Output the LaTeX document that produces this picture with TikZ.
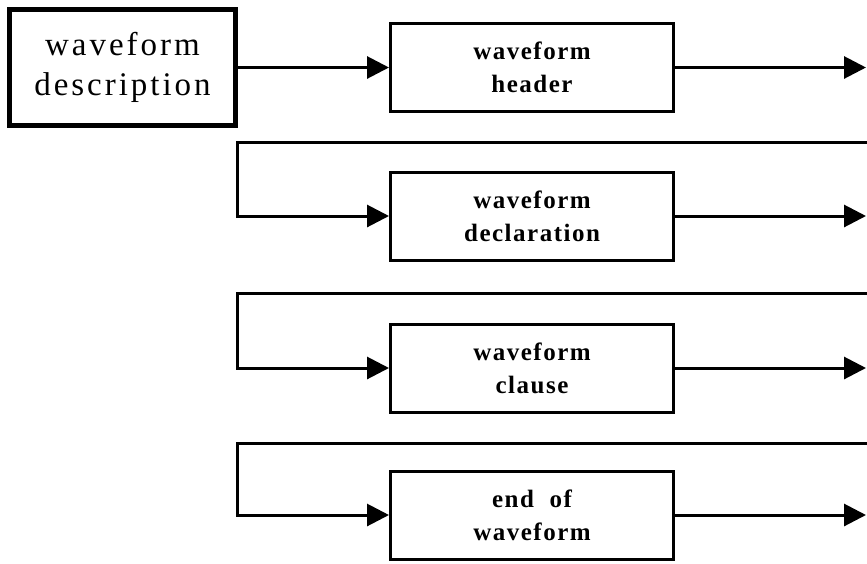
\documentclass[tikz,border=0pt]{standalone}
\usepackage{fontspec}
\setmainfont{Liberation Serif}
\newfontfamily\titlefont[LetterSpace=9]{Liberation Serif}
\newfontfamily\partfont[LetterSpace=6]{Liberation Serif}
\usetikzlibrary{arrows.meta}
\tikzset{
  title box/.style={draw, line width=5pt, minimum width=226pt, minimum height=116pt,
    inner sep=0pt, align=center, font=\titlefont\fontsize{33}{40}\selectfont},
  part box/.style={draw, line width=3pt, minimum width=283pt, minimum height=88pt,
    inner sep=0pt, align=center, font=\partfont\bfseries\fontsize{25}{33}\selectfont},
  flow/.style={line width=3pt, -{Triangle[length=22pt,width=22pt]}},
}

\begin{document}
\begin{tikzpicture}[x=1pt,y=-1pt]
  \useasboundingbox (0,0) rectangle (867,563);
  \node[title box] (desc) at (122.5,67.5) {waveform\\description};
  \node[part box] (header) at (532,67.5) {waveform\\header};
  \node[part box] (decl)   at (532,216)  {waveform\\declaration};
  \node[part box] (clause) at (532,368)  {waveform\\clause};
  \node[part box] (endwf)  at (532,515)  {end\ \ of\\waveform};
  \draw[flow] (desc) -- (header);
  % outgoing arrows to the right edge
  \foreach \b/\y in {header/67.5, decl/216, clause/368, endwf/515}{
    \coordinate (\b out) at (866,\y);
    \draw[flow] (\b) -- (\b out);
  }
  % lines coming back into the next part
  \foreach \a/\b/\y in {header/decl/142, decl/clause/293, clause/endwf/443}{
    \coordinate (\a ret) at (867,\y);
    \coordinate (\a turn) at (237,\y);
    \draw[flow] (\a ret) -- (\a turn) |- (\b);
  }
\end{tikzpicture}
\end{document}
